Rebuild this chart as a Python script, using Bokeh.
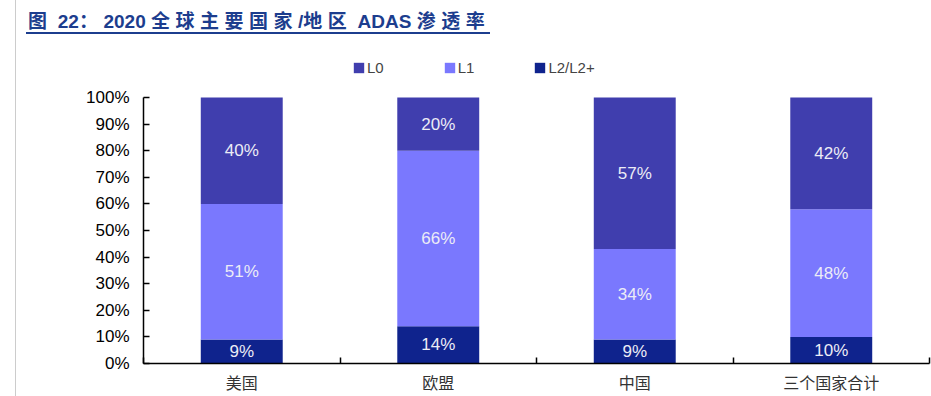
from bokeh.plotting import figure
from bokeh.models import (ColumnDataSource, FixedTicker, Legend, LegendItem, Div,
                          LabelSet, CustomJSTickFormatter, PrintfTickFormatter)
from bokeh.layouts import column
from bokeh.embed import file_html
from bokeh.resources import INLINE
from bokeh.core.properties import value

categories = ["美国", "欧盟", "中国", "三个国家合计"]
l2_vals = [9, 14, 9, 10]
l1_vals = [51, 66, 34, 48]
l0_vals = [40, 20, 57, 42]
series_names = ["L0", "L1", "L2/L2+"]
series_colors = ["#403EAE", "#7A78FE", "#0F238D"]
y_ticks = [0, 10, 20, 30, 40, 50, 60, 70, 80, 90, 100]
title_html = ('<span style="letter-spacing:5.5px">图</span> 22<span style="letter-spacing:5.5px">：</span>2020 '
              '<span style="letter-spacing:5.5px">全球主要国家</span>/<span style="letter-spacing:5.5px">地区</span> '
              'ADAS <span style="letter-spacing:5.5px">渗透率</span>')

# layout geometry (pixels)
FIG_H = 352
TOP, BOTTOM = 11, 33
FRAME_H = FIG_H - TOP - BOTTOM          # frame includes legend area above the bars
BAR_AREA_H = 266                        # pixel height for 0..100%
y_end = 100 * FRAME_H / BAR_AREA_H

xs = [i + 0.5 for i in range(len(categories))]
src = ColumnDataSource(dict(x=xs, l2=l2_vals, l1=l1_vals, l0=l0_vals))

p = figure(width=931, height=FIG_H, x_range=(0, 4), y_range=(0, y_end),
           output_backend="svg", toolbar_location=None, title=None,
           min_border_left=143, min_border_right=2, min_border_top=TOP, min_border_bottom=BOTTOM)
p.outline_line_color = None
p.xgrid.visible = False
p.ygrid.visible = False
p.background_fill_color = "white"
p.border_fill_color = None

rs = p.vbar_stack(["l2", "l1", "l0"], x="x", width=0.417, source=src,
                  color=[series_colors[2], series_colors[1], series_colors[0]], line_width=0)

# labels at segment centers
lab_x, lab_y, lab_t = [], [], []
for i in range(len(categories)):
    a, b, c = l2_vals[i], l1_vals[i], l0_vals[i]
    for base, v in ((0, a), (a, b), (a + b, c)):
        lab_x.append(xs[i]); lab_y.append(base + v / 2); lab_t.append(f"{v}%")
lsrc = ColumnDataSource(dict(x=lab_x, y=lab_y, t=lab_t))
p.add_layout(LabelSet(x="x", y="y", text="t", source=lsrc, text_align="center",
                      text_baseline="middle", text_color="#ECECF6", text_font_size="17px",
                      text_font=value("Liberation Sans")))

# axes
xa = p.xaxis[0]
xa.ticker = FixedTicker(ticks=xs, minor_ticks=[0, 1, 2, 3, 4])
xa.formatter = CustomJSTickFormatter(args=dict(cats=categories),
                                     code="return cats[Math.floor(tick)];")
xa.major_tick_line_color = None
xa.minor_tick_in = 6
xa.minor_tick_out = 0
xa.minor_tick_line_color = "black"
xa.minor_tick_line_width = 1.5
xa.axis_line_color = "black"
xa.axis_line_width = 1.5
xa.major_label_text_font = "Noto Sans CJK SC"
xa.major_label_text_font_size = "16px"
xa.major_label_text_color = "#333333"
xa.major_label_standoff = 0

ya = p.yaxis[0]
ya.ticker = FixedTicker(ticks=y_ticks, minor_ticks=[])
ya.formatter = PrintfTickFormatter(format="%d%%")
ya.bounds = (0, 100)
ya.major_tick_in = 6
ya.major_tick_out = 0
ya.major_tick_line_color = "black"
ya.major_tick_line_width = 1.5
ya.axis_line_color = "black"
ya.axis_line_width = 1.5
ya.major_label_text_font = "Liberation Sans"
ya.major_label_text_font_size = "17px"
ya.major_label_text_color = "black"
ya.major_label_standoff = 14

legend = Legend(items=[LegendItem(label=series_names[0], renderers=[rs[2]]),
                       LegendItem(label=series_names[1], renderers=[rs[1]]),
                       LegendItem(label=series_names[2], renderers=[rs[0]])],
                orientation="horizontal", location=(209, FRAME_H - 42 + 29 - 8),
                glyph_width=13, glyph_height=13, label_standoff=2, spacing=59,
                padding=0, margin=0, label_height=16, label_width=10,
                label_text_font="Liberation Sans", label_text_font_size="15px",
                border_line_color=None, background_fill_alpha=0)
p.add_layout(legend, "center")

div = Div(text=('<div style="font-family:\'Liberation Sans\',\'Noto Sans CJK SC\';font-weight:bold;'
                'font-size:19px;color:#1C3D8E;margin-left:26px;padding-left:2px;line-height:28px;'
                'padding-top:8px;height:34px;border-bottom:2px solid #1C3D8E;white-space:nowrap;">'
                + title_html + '</div>'),
          width=931, height=44, margin=0)

layout = column(div, p, spacing=0, margin=0,
                styles={"background": "linear-gradient(to right, white 15px, #cccccc 15px, #cccccc 16px, white 16px)"})
open("out.html", "w").write(file_html(layout, INLINE))
